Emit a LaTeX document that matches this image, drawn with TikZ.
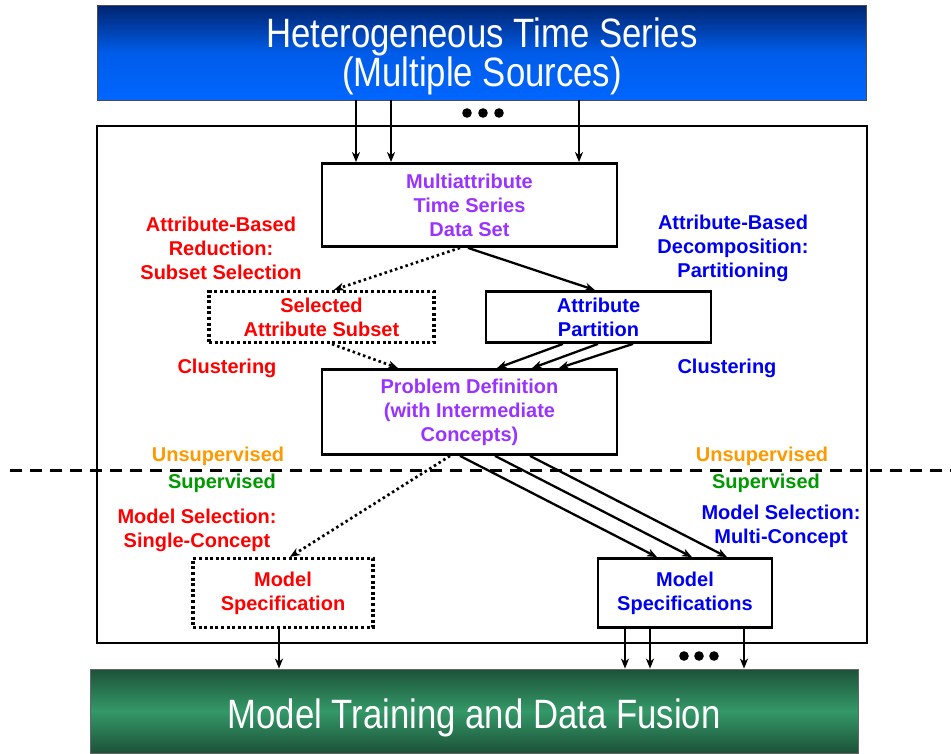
\documentclass[tikz,border=0pt]{standalone}
\usepackage{fontspec}
\setmainfont{Liberation Sans}
\newfontfamily\narrowfont[FakeStretch=0.847]{Liberation Sans}
\usetikzlibrary{arrows.meta,calc}
\definecolor{cpurple}{RGB}{153,51,255}
\definecolor{cred}{RGB}{255,0,0}
\definecolor{cblue}{RGB}{0,0,240}
\definecolor{corange}{RGB}{255,153,0}
\definecolor{cgreen}{RGB}{0,153,0}
\definecolor{navytop}{RGB}{0,36,110}
\definecolor{bluebot}{RGB}{0,102,255}
\definecolor{greendark}{RGB}{28,82,56}
\definecolor{greenmid}{RGB}{52,152,104}
\tikzset{
  box/.style={draw=black,line width=2.8pt,fill=white,inner sep=0pt,align=center,font=\bfseries\fontsize{20}{24}\selectfont},
  dotbox/.style={box,line width=3.2pt,dash pattern=on 3pt off 2.6pt},
  lbl/.style={align=center,font=\bfseries\fontsize{20}{24}\selectfont,inner sep=0pt},
  arr/.style={line width=2.3pt,-{Stealth[length=10pt,width=8pt,inset=3pt]}},
  dotarr/.style={arr,line width=2.7pt,dash pattern=on 2.5pt off 3pt},
  banner/.style={draw=black!70,line width=0.8pt,inner sep=0pt},
  bantext/.style={anchor=base,inner sep=0pt,text=white,font=\narrowfont\fontsize{41}{40}\selectfont},
  dotfill/.style={fill=black,draw=none},
}
\begin{document}
\begin{tikzpicture}[x=1pt,y=-1pt]
\useasboundingbox (0,0) rectangle (951,753);
% top banner
\node[banner,minimum width=769pt,minimum height=95pt,top color=navytop,bottom color=bluebot,middle color=bluebot!85!navytop] (src) at (481.5,52.5) {};
\node[bantext] (ttl1) at (482,47.5) {Heterogeneous Time Series};
\node[bantext] (ttl2) at (482,86.5) {(Multiple Sources)};
% main frame
\node[draw=black,line width=2.8pt,minimum width=770pt,minimum height=517pt,inner sep=0pt] (frame) at (482,384.5) {};
% bottom banner
\node[banner,draw=black!60,minimum width=768pt,minimum height=84pt,top color=greendark,bottom color=greendark,middle color=greenmid] (fus) at (474,711) {};
\node[bantext] (ttl3) at (474,728) {Model Training and Data Fusion};
% boxes
\node[box,minimum width=295pt,minimum height=83pt,text=cpurple] (mts) at (469.5,205) {Multiattribute\\Time Series\\Data Set};
\node[dotbox,minimum width=225pt,minimum height=51pt,text=cred] (sel) at (321.5,317) {Selected\\Attribute Subset};
\node[box,minimum width=225pt,minimum height=51pt,text=cblue] (ap) at (598.5,317) {Attribute\\Partition};
\node[box,minimum width=295pt,minimum height=85pt,text=cpurple] (pd) at (469.5,412) {Problem Definition\\(with Intermediate\\Concepts)};
\node[dotbox,minimum width=180pt,minimum height=69pt,text=cred] (ms1) at (283,593) {Model\\Specification};
\node[box,minimum width=174pt,minimum height=69pt,text=cblue] (ms2) at (685,593) {Model\\Specifications};
% labels
\node[lbl,text=cred] (lred1) at (221,248) {Attribute-Based\\Reduction:\\Subset Selection};
\node[lbl,text=cblue] (lblue1) at (733,248) {Attribute-Based\\Decomposition:\\Partitioning};
\node[lbl,text=cred] (clu1) at (227,368) {Clustering};
\node[lbl,text=cblue] (clu2) at (727,368) {Clustering};
\node[lbl,text=corange] (uns1) at (218,456) {Unsupervised};
\node[lbl,text=corange] (uns2) at (762,456) {Unsupervised};
\node[lbl,text=cgreen] (sup1) at (222,483) {Supervised};
\node[lbl,text=cgreen] (sup2) at (766,483) {Supervised};
\node[lbl,text=cred] (msl1) at (197,530.5) {Model Selection:\\Single-Concept};
\node[lbl,text=cblue] (msl2) at (781,526.5) {Model Selection:\\Multi-Concept};
% dashed separator
\coordinate (dl) at (10,470);
\coordinate (dr) at (951,470);
\draw[line width=3pt,dash pattern=on 12pt off 8pt] (dl) -- (dr);
% top arrows
\draw[arr] ([xshift=-125.5pt]src.south) -- ([xshift=-113.5pt]mts.north);
\draw[arr] ([xshift=-90.5pt]src.south) -- ([xshift=-78.5pt]mts.north);
\draw[arr] ([xshift=97.5pt]src.south) -- ([xshift=109.5pt]mts.north);
\foreach \i/\xx in {1/467,2/483,3/499}{\fill[dotfill] (\xx,113) circle (4.8pt);}
% middle arrows
\draw[dotarr] ([xshift=-9.5pt]mts.south) -- ([xshift=12.5pt]sel.north);
\draw[arr] ([xshift=-1.5pt]mts.south) -- ([xshift=-3.5pt]ap.north);
\draw[dotarr] ([xshift=10.5pt]sel.south) -- ([xshift=-71.5pt]pd.north);
\draw[arr] ([xshift=-35.5pt]ap.south) -- ([xshift=27.5pt]pd.north);
\draw[arr] ([xshift=-0.5pt]ap.south) -- ([xshift=62.5pt]pd.north);
\draw[arr] ([xshift=34.5pt]ap.south) -- ([xshift=89.5pt]pd.north);
\draw[dotarr] ([xshift=-19.5pt]pd.south) -- ([xshift=7pt]ms1.north);
\draw[arr] ([xshift=-9.5pt]pd.south) -- ([xshift=-28pt]ms2.north);
\draw[arr] ([xshift=25.5pt]pd.south) -- ([xshift=7pt]ms2.north);
\draw[arr] ([xshift=60.5pt]pd.south) -- ([xshift=42pt]ms2.north);
% bottom arrows
\draw[arr] ([xshift=-4pt]ms1.south) -- ([xshift=-195pt]fus.north);
\draw[arr] ([xshift=-60pt]ms2.south) -- ([xshift=151pt]fus.north);
\draw[arr] ([xshift=-35pt]ms2.south) -- ([xshift=176pt]fus.north);
\draw[arr] ([xshift=59pt]ms2.south) -- ([xshift=270pt]fus.north);
\foreach \i/\xx in {1/684,2/699,3/714}{\fill[dotfill] (\xx,656) circle (4.8pt);}
\end{tikzpicture}
\end{document}
